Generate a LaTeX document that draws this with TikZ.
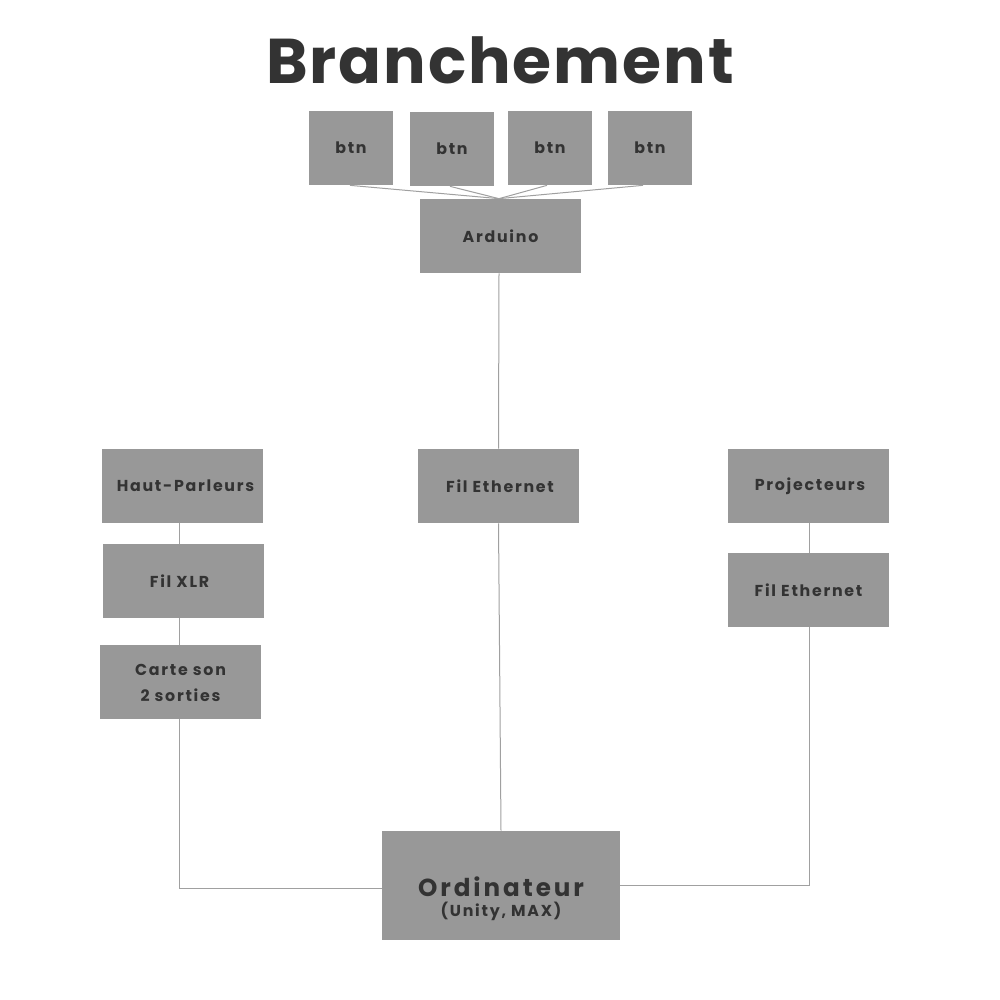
\documentclass[tikz,border=0pt]{standalone}
\usepackage{fontspec}
\setmainfont{Poppins}
\newfontfamily\boxfont{Poppins}[LetterSpace=11]
\newfontfamily\pcfont{Poppins}[LetterSpace=12]
\newfontfamily\titlefont{Poppins}[LetterSpace=3]
\definecolor{boxgrey}{HTML}{989898}
\definecolor{inkgrey}{HTML}{333333}
\definecolor{wiregrey}{HTML}{A0A0A0}
\begin{document}
\begin{tikzpicture}[x=0.2mm,y=-0.2mm,
  part/.style={fill=boxgrey, draw=none, minimum width=32.2mm, minimum height=14.8mm,
    inner sep=0pt, align=center, text=inkgrey, font=\boxfont\bfseries\fontsize{9}{12}\selectfont},
  btnbox/.style={part, minimum width=16.8mm},
  wire/.style={draw=wiregrey, line width=0.2mm}]
\useasboundingbox (0,0) rectangle (1000,1000);
\node [text=inkgrey, font=\titlefont\bfseries\fontsize{36}{40}\selectfont] (title) at (500,60) {Branchement};
% boutons
\node [btnbox] (btnA) at (351,148) {btn};
\node [btnbox] (btnB) at (452,149) {btn};
\node [btnbox] (btnC) at (550,148) {btn};
\node [btnbox] (btnD) at (650,148) {btn};
\node [part] (arduino) at (500.5,236) {Arduino};
% colonne gauche
\node [part] (hp) at (182.5,486) {\hspace{1.2mm}Haut-Parleurs};
\node [part] (xlr) at (183.5,581) {Fil XLR\hspace{1.6mm}};
\node [part] (carte) at (180.5,682)
  {\raisebox{-0.5mm}[\height][\depth]{\begin{tabular}{@{}c@{}}Carte son\\[2.5pt]2 sorties\end{tabular}}};
% colonne milieu
\node [part] (ethA) at (498.5,486) {\hspace{0.6mm}Fil Ethernet};
% colonne droite
\node [part] (proj) at (808.5,486) {\hspace{0.6mm}Projecteurs};
\node [part] (ethB) at (808.5,590) {Fil Ethernet};
\node [part, minimum width=47.6mm, minimum height=21.8mm, font=\pcfont\bfseries\fontsize{14}{15}\selectfont] (pc) at (501,885.5)
  {\raisebox{-3mm}[\height][\depth]{\begin{tabular}{@{}c@{}}Ordinateur\\[-4pt]{\boxfont\fontsize{9}{10}\selectfont(Unity, MAX)}\end{tabular}}};
\coordinate (hpcorner) at (179,888);
\coordinate (projcorner) at (809,885);
% fils
\draw [wire] ([xshift=-0.2mm]btnA.south) -- ([xshift=-0.3mm]arduino.north);
\draw [wire] ([xshift=-0.4mm]btnB.south) -- ([xshift=-0.3mm]arduino.north);
\draw [wire] ([xshift=-0.6mm]btnC.south) -- ([xshift=-0.3mm]arduino.north);
\draw [wire] ([xshift=-1.4mm]btnD.south) -- ([xshift=-0.3mm]arduino.north);
\draw [wire] ([xshift=-0.3mm]arduino.south) -- (ethA.north);
\draw [wire] (ethA.south) -- (pc.north);
\draw [wire] (hp.south -| hpcorner) -- (xlr.north -| hpcorner);
\draw [wire] (xlr.south -| hpcorner) -- (carte.north -| hpcorner);
\draw [wire] (carte.south -| hpcorner) -- (hpcorner) -- (pc.west |- hpcorner);
\draw [wire] (proj.south -| projcorner) -- (ethB.north -| projcorner);
\draw [wire] (ethB.south -| projcorner) -- (projcorner) -- (pc.east |- projcorner);
\end{tikzpicture}
\end{document}
